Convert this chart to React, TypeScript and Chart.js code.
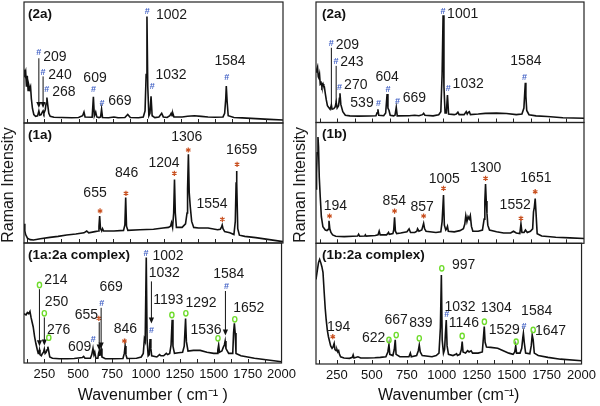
import React, { useEffect, useRef } from 'react';
import { Chart, registerables } from 'chart.js';

Chart.register(...registerables);

const FONT = '"Liberation Sans", Arial, Helvetica, sans-serif';
const X_MIN = 100;
const X_MAX = 2000;
const X_TICK_STEP = 125;
const X_TICK_LABELS = [250, 500, 750, 1000, 1250, 1500, 1750, 2000];

type Pt = [number, number];
type Ann = {
  x: number; y: number; mark: '#' | '*' | 'o';
  tx: number; ty: number; text: string;
  line?: [number, number]; lineX?: number; arrow?: boolean;
};

// ---------- spectra (wavenumber, relative intensity 0-100 per panel) ----------
const SPEC_2A_LEFT: Pt[] = [
  [100, 44], [106, 41], [112, 43], [118, 30], [124, 39], [130, 27], [136, 31], [142, 28], [148, 30], [154, 20],
  [162, 12], [172, 7], [185, 5.5], [200, 6], [209, 10], [216, 6.5], [226, 7], [234, 9], [240, 10], [246, 8],
  [256, 11], [262, 16], [268, 21], [274, 15], [282, 8], [292, 5.5], [320, 4.8], [380, 4.5], [450, 4.3], [500, 4.6],
  [530, 6], [540, 9], [548, 5], [600, 4.8], [609, 21.7], [616, 6], [626, 9], [634, 5], [650, 4.5], [662, 5],
  [669, 11.3], [676, 4.6], [720, 4.3], [760, 5], [790, 4.3], [840, 4.5], [861, 7], [880, 4.5], [940, 4.3], [975, 5],
  [988, 10], [996, 40], [1002, 88], [1008, 30], [1016, 6], [1024, 8], [1032, 22], [1040, 6], [1060, 4.5], [1090, 5],
  [1110, 8], [1122, 5], [1150, 4.6], [1170, 6], [1180, 8], [1186, 6], [1192, 8], [1200, 5], [1260, 5], [1300, 5.6],
  [1350, 6], [1400, 5.5], [1450, 5], [1500, 4.8], [1560, 5], [1572, 8], [1580, 20], [1584, 30.6], [1590, 18], [1598, 6],
  [1640, 4.5], [1700, 4.2], [1800, 3.6], [1900, 3], [2000, 2.5],
];

const SPEC_1A: Pt[] = [
  [100, 16], [106, 10], [112, 7], [125, 4], [145, 2.8], [170, 2.5], [220, 3.5], [290, 4.7], [350, 5.5], [413, 6.7],
  [480, 7.5], [540, 8.5], [560, 10], [575, 8.5], [620, 9.5], [645, 10], [650, 14], [655, 22.5], [661, 12], [670, 10],
  [676, 12], [684, 10], [760, 10], [830, 10.5], [840, 15], [846, 38], [852, 14], [862, 10.5], [950, 11], [1050, 11.5],
  [1120, 12.5], [1160, 13], [1175, 14], [1182, 17], [1190, 13], [1198, 25], [1204, 53], [1210, 25], [1218, 13], [1260, 13],
  [1285, 16], [1296, 25], [1300, 45], [1306, 74], [1312, 42], [1320, 30], [1330, 18], [1345, 13], [1380, 12.5], [1450, 12.5],
  [1520, 11], [1540, 11.5], [1548, 13], [1554, 15], [1560, 12], [1572, 9.5], [1610, 8.5], [1640, 7], [1650, 18], [1656, 50],
  [1659, 60], [1662, 50], [1668, 12], [1680, 6.5], [1720, 5.5], [1800, 4.5], [1900, 2.8], [2000, 1.1],
];

const SPEC_1A2A: Pt[] = [
  [100, 41], [115, 40], [125, 42], [135, 41], [144, 43], [152, 38], [160, 34], [168, 30], [178, 22], [188, 16],
  [198, 11], [205, 8], [210, 9], [214, 11], [218, 7], [228, 6], [236, 8], [244, 9], [250, 11.7], [256, 8],
  [264, 9], [270, 11], [276, 13.6], [282, 10], [290, 5], [310, 4], [360, 3.5], [420, 3.5], [470, 3.8], [530, 4.5],
  [540, 5.5], [550, 4], [590, 4], [600, 7], [609, 12.2], [616, 7], [622, 9], [630, 4], [645, 4], [650, 8],
  [655, 10], [660, 6], [664, 9], [669, 12], [675, 5], [700, 3.5], [760, 3.5], [830, 3.8], [840, 8], [846, 14.2],
  [852, 7], [860, 3.8], [930, 4], [965, 5], [980, 8], [988, 20], [994, 18], [1002, 88], [1008, 20], [1016, 6],
  [1024, 7], [1030, 20], [1036, 12], [1042, 6], [1080, 5], [1100, 7], [1110, 6], [1130, 6], [1150, 8], [1160, 7],
  [1175, 8], [1185, 15], [1193, 36], [1199, 14], [1210, 8], [1240, 8.5], [1270, 9], [1282, 14], [1292, 37], [1298, 18],
  [1310, 10], [1350, 10.5], [1400, 10.5], [1450, 9], [1500, 8], [1525, 8], [1530, 11], [1536, 15], [1542, 9], [1560, 10],
  [1570, 13], [1578, 15], [1584, 18.3], [1590, 12], [1610, 8], [1640, 8], [1646, 25], [1652, 33], [1658, 25], [1664, 8],
  [1700, 6], [1800, 4], [1900, 2.5], [2000, 1.1],
];

const SPEC_2A_RIGHT: Pt[] = [
  [100, 42], [106, 44], [111, 46], [116, 38], [120, 37], [125, 40], [130, 32], [136, 33], [142, 29.7], [150, 32],
  [155, 30], [159, 29.7], [166, 24], [173, 18.7], [181, 14], [189, 12.6], [200, 11], [209, 14.5], [214, 11], [226, 11.5],
  [236, 13], [243, 17], [250, 12], [260, 14], [266, 20], [270, 24.2], [276, 15], [290, 9], [308, 6], [340, 5.5],
  [400, 5.3], [480, 5.4], [525, 5.6], [533, 8], [539, 11], [545, 6], [580, 5.6], [594, 8], [604, 23.6], [610, 12],
  [618, 10], [626, 6], [650, 5.5], [660, 6], [669, 12.6], [676, 5.5], [760, 5.6], [800, 6], [830, 5.6], [855, 6.5],
  [863, 7.6], [872, 6], [930, 5.5], [970, 6.5], [985, 9], [994, 40], [1001, 89], [1007, 30], [1015, 8], [1024, 8],
  [1032, 22.8], [1040, 7], [1080, 6.5], [1095, 7], [1106, 8.5], [1115, 6.5], [1150, 6.5], [1165, 9], [1172, 7], [1180, 8.5],
  [1187, 9], [1195, 6.5], [1250, 7], [1300, 7.6], [1380, 7.8], [1450, 7.5], [1520, 6.5], [1560, 7], [1574, 12], [1580, 25],
  [1584, 33], [1588, 22], [1594, 10], [1610, 6.5], [1660, 5.5], [1740, 5], [1850, 4], [2000, 3.5],
];

const SPEC_1B: Pt[] = [
  [100, 45], [104, 58], [108, 75], [114, 88], [118, 80], [123, 55], [130, 38.6], [138, 22], [149, 13.7], [166, 11],
  [178, 10.5], [186, 11.5], [192, 18.7], [198, 12], [206, 9], [218, 6.9], [240, 5.8], [300, 5.5], [360, 5.8], [395, 6],
  [402, 7.5], [410, 5.8], [445, 6], [450, 7], [455, 6], [520, 6.5], [540, 7], [548, 10], [555, 7], [600, 7],
  [608, 8], [614, 9], [620, 7.5], [645, 8], [651, 11], [657, 21.5], [663, 10], [672, 8], [700, 8.5], [745, 9.6],
  [760, 12], [770, 9], [800, 9], [815, 10], [820, 12], [830, 10], [850, 11], [857, 14], [863, 16.5], [870, 12],
  [880, 10], [950, 9], [985, 9.5], [994, 18], [1004, 40], [1010, 15], [1020, 11], [1026, 12], [1032, 14], [1038, 10],
  [1080, 9.5], [1120, 10.5], [1145, 12], [1155, 16], [1162, 23], [1170, 18], [1178, 22], [1186, 20], [1194, 23], [1202, 14],
  [1212, 10], [1250, 10], [1280, 11], [1292, 20], [1297, 35], [1302, 49], [1307, 35], [1312, 25], [1318, 15], [1330, 11],
  [1380, 9.5], [1430, 8.5], [1480, 8.5], [1500, 10], [1520, 8.5], [1545, 8], [1553, 16], [1560, 9], [1575, 9], [1585, 11],
  [1598, 9], [1620, 10], [1636, 12], [1642, 26], [1648, 30], [1654, 37], [1660, 25], [1668, 8], [1700, 6], [1800, 5],
  [1900, 4.5], [2000, 4],
];

const SPEC_1B2A: Pt[] = [
  [100, 70], [110, 78], [118, 84], [126, 86.7], [134, 84], [142, 80.6], [150, 76], [159, 58.6], [166, 46], [173, 36.5],
  [181, 28], [189, 22.6], [205, 15], [215, 13], [222, 14], [230, 17], [236, 12], [245, 11], [250, 12], [256, 10],
  [262, 11], [268, 8], [276, 6], [300, 5], [340, 4.7], [360, 5.5], [366, 7.5], [372, 5], [400, 6], [420, 5],
  [470, 5], [520, 5.2], [560, 5.5], [600, 6], [614, 10], [622, 16], [628, 8], [650, 7], [660, 12], [667, 20],
  [673, 8], [700, 6], [765, 6], [775, 9], [782, 6], [820, 7], [832, 11], [839, 15.7], [846, 10], [860, 7],
  [930, 6], [960, 7], [980, 9], [990, 30], [997, 73.7], [1003, 20], [1012, 9], [1020, 12], [1026, 25], [1032, 36.5],
  [1038, 15], [1048, 8], [1080, 7], [1100, 8], [1106, 8.5], [1112, 7], [1130, 8], [1140, 12], [1146, 18.5], [1152, 10],
  [1170, 9], [1185, 11], [1195, 10], [1210, 11], [1220, 9], [1260, 9], [1290, 10], [1298, 22], [1304, 31], [1310, 18],
  [1320, 14], [1350, 13.8], [1400, 13], [1440, 11], [1480, 9], [1510, 8], [1522, 10], [1529, 15], [1535, 9], [1560, 9],
  [1572, 13], [1580, 22], [1584, 25.4], [1590, 18], [1600, 9], [1630, 8.5], [1640, 15], [1647, 24], [1654, 20], [1662, 9],
  [1690, 7], [1760, 5.5], [1850, 4], [2000, 2.7],
];

// ---------- peak annotations ----------
const ANN_2A_LEFT: Ann[] = [
  { x: 209, y: 57.9, mark: '#', tx: 327, ty: 54.5, text: '209', line: [53.5, 12.4], arrow: true },
  { x: 240, y: 42.1, mark: '#', tx: 364, ty: 39.7, text: '240', line: [38.5, 12.4], arrow: true },
  { x: 267, y: 27.3, mark: '#', tx: 393, ty: 25.6, text: '268' },
  { x: 609, y: 27.3, mark: '#', tx: 621, ty: 37.2, text: '609' },
  { x: 672, y: 16.5, mark: '#', tx: 804, ty: 18.2, text: '669' },
  { x: 1004, y: 92, mark: '#', tx: 1182, ty: 89.3, text: '1002' },
  { x: 1040, y: 29.8, mark: '#', tx: 1178, ty: 39.7, text: '1032' },
  { x: 1587, y: 37.2, mark: '#', tx: 1611, ty: 51.2, text: '1584' },
];

const ANN_1A: Ann[] = [
  { x: 658, y: 26.7, mark: '*', tx: 621, ty: 41.9, text: '655' },
  { x: 848, y: 41.4, mark: '*', tx: 853, ty: 58.6, text: '846' },
  { x: 1203, y: 58.1, mark: '*', tx: 1127, ty: 66.4, text: '1204' },
  { x: 1305, y: 77.5, mark: '*', tx: 1294, ty: 88.1, text: '1306' },
  { x: 1555, y: 19.7, mark: '*', tx: 1479, ty: 32.5, text: '1554' },
  { x: 1663, y: 65.6, mark: '*', tx: 1697, ty: 77.5, text: '1659' },
];

const ANN_1A2A: Ann[] = [
  { x: 214, y: 65, mark: 'o', tx: 335, ty: 69.2, text: '214', line: [61.5, 14], arrow: true },
  { x: 250, y: 41.4, mark: 'o', tx: 340, ty: 50.3, text: '250', line: [38, 14.5], arrow: true },
  { x: 283, y: 21.1, mark: 'o', tx: 355, ty: 27.5, text: '276' },
  { x: 611, y: 19.2, mark: '#', tx: 511, ty: 13, text: '609' },
  { x: 652, y: 37.2, mark: '*', tx: 560, ty: 40, text: '655', line: [34, 10.5], lineX: 655, arrow: true },
  { x: 674, y: 49.7, mark: '#', tx: 743, ty: 63.6, text: '669', line: [46, 12], lineX: 669, arrow: true },
  { x: 841, y: 18.3, mark: '*', tx: 848, ty: 28, text: '846' },
  { x: 1000, y: 91.4, mark: '#', tx: 1162, ty: 89.2, text: '1002' },
  { x: 1040, y: 26.7, mark: '#', tx: 1135, ty: 74.7, text: '1032', line: [68, 33], lineX: 1040, arrow: true },
  { x: 1191, y: 40, mark: 'o', tx: 1164, ty: 52.5, text: '1193' },
  { x: 1294, y: 41.4, mark: 'o', tx: 1406, ty: 49.7, text: '1292' },
  { x: 1531, y: 20.6, mark: 'o', tx: 1443, ty: 27.5, text: '1536' },
  { x: 1594, y: 63.6, mark: '#', tx: 1611, ty: 74.2, text: '1584', line: [60, 23], lineX: 1586, arrow: true },
  { x: 1655, y: 36.4, mark: 'o', tx: 1758, ty: 45.6, text: '1652' },
];

const ANN_2A_RIGHT: Ann[] = [
  { x: 208, y: 65.7, mark: '#', tx: 322, ty: 64, text: '209', line: [62, 14.5], lineX: 209 },
  { x: 242, y: 50.5, mark: '#', tx: 355, ty: 50.2, text: '243', line: [47, 17], lineX: 243 },
  { x: 267, y: 29.2, mark: '#', tx: 382, ty: 31.1, text: '270' },
  { x: 544, y: 15.9, mark: '#', tx: 426, ty: 15.9, text: '539' },
  { x: 610, y: 27.6, mark: '#', tx: 605, ty: 38, text: '604' },
  { x: 678, y: 17.3, mark: '#', tx: 797, ty: 20, text: '669' },
  { x: 1000, y: 92, mark: '#', tx: 1140, ty: 90, text: '1001' },
  { x: 1038, y: 28.4, mark: '#', tx: 1179, ty: 32, text: '1032' },
  { x: 1578, y: 37.5, mark: '#', tx: 1588, ty: 51, text: '1584' },
];

const ANN_1B: Ann[] = [
  { x: 196, y: 22.6, mark: '*', tx: 237, ty: 30.9, text: '194' },
  { x: 657, y: 26.7, mark: '*', tx: 655, ty: 35.3, text: '854' },
  { x: 863, y: 22.6, mark: '*', tx: 853, ty: 30.3, text: '857' },
  { x: 1004, y: 45.5, mark: '*', tx: 1009, ty: 53, text: '1005' },
  { x: 1302, y: 53.8, mark: '*', tx: 1303, ty: 62.1, text: '1300' },
  { x: 1553, y: 20.7, mark: '*', tx: 1512, ty: 31.7, text: '1552' },
  { x: 1654, y: 42.7, mark: '*', tx: 1659, ty: 53.8, text: '1651' },
];

const ANN_1B2A: Ann[] = [
  { x: 220, y: 22.6, mark: '*', tx: 262, ty: 30.4, text: '194' },
  { x: 622, y: 19.9, mark: 'o', tx: 513, ty: 21.3, text: '622' },
  { x: 674, y: 24, mark: 'o', tx: 674, ty: 36.5, text: '667' },
  { x: 839, y: 21.3, mark: 'o', tx: 851, ty: 33.7, text: '839' },
  { x: 1000, y: 79.3, mark: 'o', tx: 1156, ty: 82, text: '997' },
  { x: 1036, y: 41.2, mark: '#', tx: 1130, ty: 47, text: '1032' },
  { x: 1146, y: 23.2, mark: 'o', tx: 1158, ty: 34.2, text: '1146' },
  { x: 1305, y: 35, mark: 'o', tx: 1390, ty: 46.1, text: '1304' },
  { x: 1532, y: 18.5, mark: 'o', tx: 1447, ty: 28.2, text: '1529' },
  { x: 1588, y: 30.9, mark: '#', tx: 1679, ty: 43.9, text: '1584' },
  { x: 1654, y: 28.2, mark: 'o', tx: 1778, ty: 27.3, text: '1647' },
];

type PanelProps = {
  spec: Pt[];
  anns: Ann[];
  label: string;
  left: number; top: number; width: number; height: number;
  pad: { left: number; right: number; top: number; bottom: number };
  labelInset: number;
  xTitle?: string;
  axisHeight?: number;
  yTitle?: string;
};

function drawMark(ctx: CanvasRenderingContext2D, mark: string, px: number, py: number) {
  if (mark === '#') {
    ctx.fillStyle = '#4463c6';
    ctx.font = `bold 9px ${FONT}`;
    ctx.textAlign = 'center';
    ctx.textBaseline = 'middle';
    ctx.fillText('#', px, py);
  } else if (mark === '*') {
    ctx.strokeStyle = '#c9501f';
    ctx.lineWidth = 1.2;
    ctx.beginPath();
    for (let k = 0; k < 3; k++) {
      const ang = Math.PI / 2 + (k * Math.PI) / 3;
      const dx = Math.cos(ang) * 2.6;
      const dy = Math.sin(ang) * 2.6;
      ctx.moveTo(px - dx, py - dy);
      ctx.lineTo(px + dx, py + dy);
    }
    ctx.stroke();
  } else {
    ctx.strokeStyle = '#6fdc2c';
    ctx.lineWidth = 1.4;
    ctx.beginPath();
    ctx.ellipse(px, py, 2.1, 2.7, 0, 0, Math.PI * 2);
    ctx.stroke();
  }
}

function Panel(p: PanelProps) {
  const ref = useRef<HTMLCanvasElement | null>(null);
  useEffect(() => {
    const canvas = ref.current;
    if (!canvas) return;
    const decor = {
      id: 'decor',
      afterDatasetsDraw(chart: any) {
        const { ctx, chartArea: a, scales } = chart;
        const xs = scales.x;
        const ys = scales.y;
        ctx.save();
        // inner ticks
        ctx.strokeStyle = '#222';
        ctx.lineWidth = 1;
        for (let v = X_TICK_STEP; v < X_MAX; v += X_TICK_STEP) {
          const px = Math.round(xs.getPixelForValue(v)) + 0.5;
          ctx.beginPath();
          ctx.moveTo(px, a.bottom);
          ctx.lineTo(px, a.bottom - 4);
          ctx.stroke();
        }
        // frame
        ctx.lineWidth = 1.2;
        ctx.strokeStyle = '#222';
        ctx.strokeRect(a.left, a.top, a.right - a.left, a.bottom - a.top);
        // panel label
        ctx.fillStyle = '#111';
        ctx.font = `bold 13.5px ${FONT}`;
        ctx.textAlign = 'left';
        ctx.textBaseline = 'middle';
        ctx.fillText(p.label, a.left + p.labelInset, a.top + 12);
        // annotations
        for (const an of p.anns) {
          if (an.line) {
            const lx = xs.getPixelForValue(an.lineX ?? an.x);
            const y1 = ys.getPixelForValue(an.line[0]);
            const y2 = ys.getPixelForValue(an.line[1]);
            ctx.strokeStyle = '#111';
            ctx.lineWidth = 1;
            ctx.beginPath();
            ctx.moveTo(lx, y1);
            ctx.lineTo(lx, an.arrow ? y2 - 4 : y2);
            ctx.stroke();
            if (an.arrow) {
              ctx.fillStyle = '#111';
              ctx.beginPath();
              ctx.moveTo(lx - 2.6, y2 - 6);
              ctx.lineTo(lx + 2.6, y2 - 6);
              ctx.lineTo(lx, y2);
              ctx.closePath();
              ctx.fill();
            }
          }
          drawMark(ctx, an.mark, xs.getPixelForValue(an.x), ys.getPixelForValue(an.y));
          ctx.fillStyle = '#1a1a1a';
          ctx.font = `14px ${FONT}`;
          ctx.textAlign = 'center';
          ctx.textBaseline = 'middle';
          ctx.fillText(an.text, xs.getPixelForValue(an.tx), ys.getPixelForValue(an.ty));
        }
        // y title
        if (p.yTitle) {
          ctx.save();
          ctx.translate(a.left - 15, (a.top + a.bottom) / 2 + 2);
          ctx.rotate(-Math.PI / 2);
          ctx.fillStyle = '#1a1a1a';
          ctx.font = `16px ${FONT}`;
          ctx.textAlign = 'center';
          ctx.textBaseline = 'middle';
          ctx.fillText(p.yTitle, 0, 0);
          ctx.restore();
        }
        ctx.restore();
      },
    };
    const showX = !!p.xTitle;
    const chart = new Chart(canvas, {
      type: 'line',
      data: {
        datasets: [{
          data: p.spec.map(([x, y]) => ({ x, y })),
          borderColor: '#111',
          borderWidth: 1.6,
          pointRadius: 0,
          tension: 0,
          fill: false,
        }],
      },
      options: {
        animation: false,
        responsive: false,
        maintainAspectRatio: false,
        events: [],
        layout: { padding: p.pad },
        plugins: { legend: { display: false }, tooltip: { enabled: false } },
        scales: {
          x: {
            type: 'linear',
            min: X_MIN,
            max: X_MAX,
            display: showX,
            afterFit: showX ? (s: any) => { s.height = p.axisHeight; } : undefined,
            grid: { display: false, drawTicks: false },
            border: { display: false },
            ticks: {
              stepSize: X_TICK_STEP,
              includeBounds: false,
              autoSkip: false,
              maxRotation: 0,
              minRotation: 0,
              padding: 4,
              color: '#111',
              font: { family: FONT, size: 13 },
              callback: (v: any) => (X_TICK_LABELS.includes(Number(v)) ? String(v) : ''),
            },
            title: {
              display: showX,
              text: p.xTitle || '',
              color: '#111',
              font: { family: FONT, size: 16 },
              padding: 0,
            },
          } as any,
          y: { min: 0, max: 100, display: false },
        },
      },
      plugins: [decor],
    } as any);
    return () => chart.destroy();
  }, []);
  return (
    <canvas
      ref={ref}
      width={p.width}
      height={p.height}
      style={{ position: 'absolute', left: p.left, top: p.top, width: p.width, height: p.height }}
    />
  );
}

export default function App() {
  const L = { left: 0, width: 300 };
  const R = { left: 284, width: 316 };
  const padL = { left: 24, right: 17 };
  const padR = { left: 32, right: 16 };
  return (
    <div style={{ position: 'fixed', left: 0, top: 0, width: 600, height: 406, background: '#fff', overflow: 'hidden' }}>
      <Panel spec={SPEC_2A_LEFT} anns={ANN_2A_LEFT} label="(2a)" labelInset={4}
        left={L.left} width={L.width} top={0} height={126} pad={{ ...padL, top: 2, bottom: 3 }} />
      <Panel spec={SPEC_1A} anns={ANN_1A} label="(1a)" labelInset={4} yTitle="Raman Intensity"
        left={L.left} width={L.width} top={120} height={126} pad={{ ...padL, top: 3, bottom: 3 }} />
      <Panel spec={SPEC_1A2A} anns={ANN_1A2A} label="(1a:2a complex)" labelInset={4}
        xTitle="Wavenumber ( cm⁻¹ )" axisHeight={42}
        left={L.left} width={L.width} top={240} height={166} pad={{ ...padL, top: 3, bottom: 1 }} />
      <Panel spec={SPEC_2A_RIGHT} anns={ANN_2A_RIGHT} label="(2a)" labelInset={6}
        left={R.left} width={R.width} top={0} height={126} pad={{ ...padR, top: 2, bottom: 3.5 }} />
      <Panel spec={SPEC_1B} anns={ANN_1B} label="(1b)" labelInset={6} yTitle="Raman Intensity"
        left={R.left} width={R.width} top={120} height={126} pad={{ ...padR, top: 2.5, bottom: 2.7 }} />
      <Panel spec={SPEC_1B2A} anns={ANN_1B2A} label="(1b:2a complex)" labelInset={6}
        xTitle="Wavenumber (cm⁻¹)" axisHeight={41}
        left={R.left} width={R.width} top={240} height={166} pad={{ ...padR, top: 3.3, bottom: 1 }} />
    </div>
  );
}
